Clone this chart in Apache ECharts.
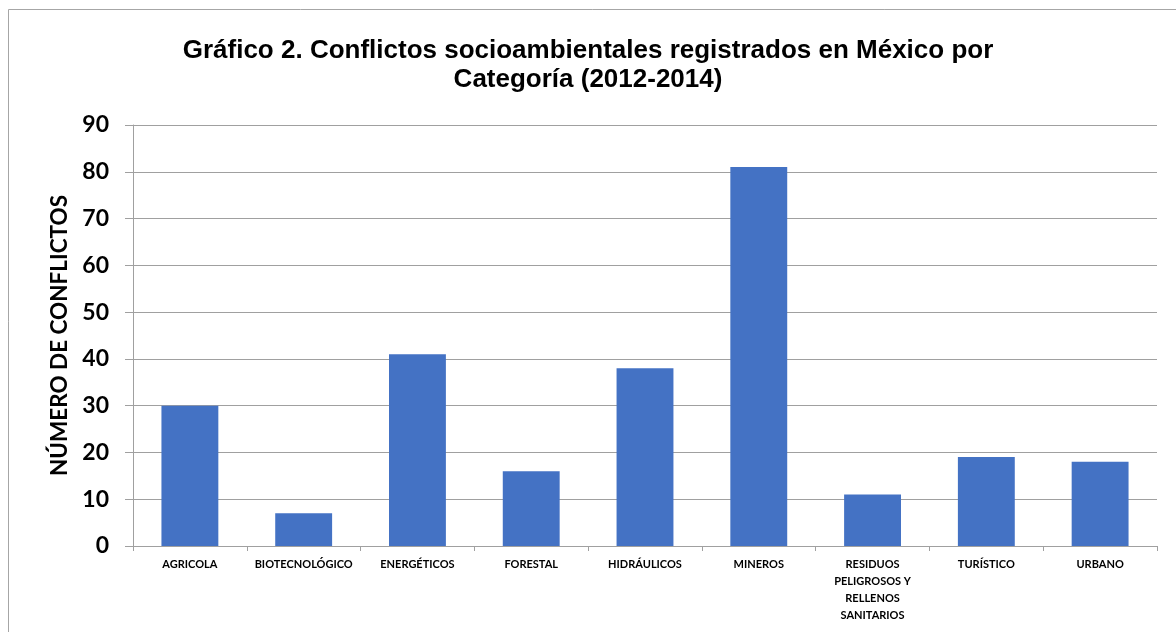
<!DOCTYPE html>
<html>
<head>
<meta charset="utf-8">
<script src="https://cdn.jsdelivr.net/npm/echarts@6/dist/echarts.min.js"></script>
<style>
html,body{margin:0;padding:0;background:#fff;}
#c{width:1176px;height:632px;}
</style>
</head>
<body>
<div id="c"></div>
<script>
const categories = ['AGRICOLA','BIOTECNOLÓGICO','ENERGÉTICOS','FORESTAL','HIDRÁULICOS','MINEROS','RESIDUOS\nPELIGROSOS Y\nRELLENOS\nSANITARIOS','TURÍSTICO','URBANO'];
const values = [30, 7, 41, 16, 38, 81, 11, 19, 18];
const titleText = 'Gráfico 2. Conflictos socioambientales registrados en México por\nCategoría (2012-2014)';
const yAxisName = 'NÚMERO DE CONFLICTOS';

const chart = echarts.init(document.getElementById('c'), null, {renderer:'canvas'});
chart.setOption({
  animation: false,
  backgroundColor: '#fff',
  graphic: [{
    type: 'rect', silent: true, z: -1,
    shape: {x: 8.5, y: 9.5, width: 1200, height: 700},
    style: {fill: 'none', stroke: '#a6a6a6', lineWidth: 1}
  }],
  title: {
    text: titleText,
    left: 'center',
    top: 31,
    textStyle: {fontFamily: 'Liberation Sans, Arial', fontWeight: 'bold', fontSize: 26, lineHeight: 29, color: '#000'}
  },
  grid: {left: 133, right: 19, top: 125, bottom: 86},
  xAxis: {
    type: 'category',
    data: categories,
    boundaryGap: true,
    axisLine: {lineStyle: {color: '#a0a0a0', width: 1}},
    axisTick: {show: true, length: 5, lineStyle: {color: '#a0a0a0'}},
    axisLabel: {interval: 0, margin: 10, fontFamily: 'Lato', fontWeight: 'bold', fontSize: 11, lineHeight: 17, color: '#000'}
  },
  yAxis: {
    type: 'value',
    min: 0, max: 90, interval: 10,
    name: yAxisName,
    nameLocation: 'middle',
    nameGap: 62,
    nameTextStyle: {fontFamily: 'Lato', fontWeight: 'bold', fontSize: 22.5, color: '#000'},
    axisLine: {show: true, lineStyle: {color: '#a0a0a0', width: 1}},
    axisTick: {show: true, length: 8, lineStyle: {color: '#a0a0a0'}},
    splitLine: {show: true, lineStyle: {color: '#a0a0a0', width: 1}},
    axisLabel: {margin: 24, fontFamily: 'Lato', fontWeight: 'bold', fontSize: 23, color: '#000'}
  },
  series: [{
    type: 'bar',
    data: values,
    barWidth: '50%',
    itemStyle: {color: '#4472c4'}
  }]
});
</script>
</body>
</html>
